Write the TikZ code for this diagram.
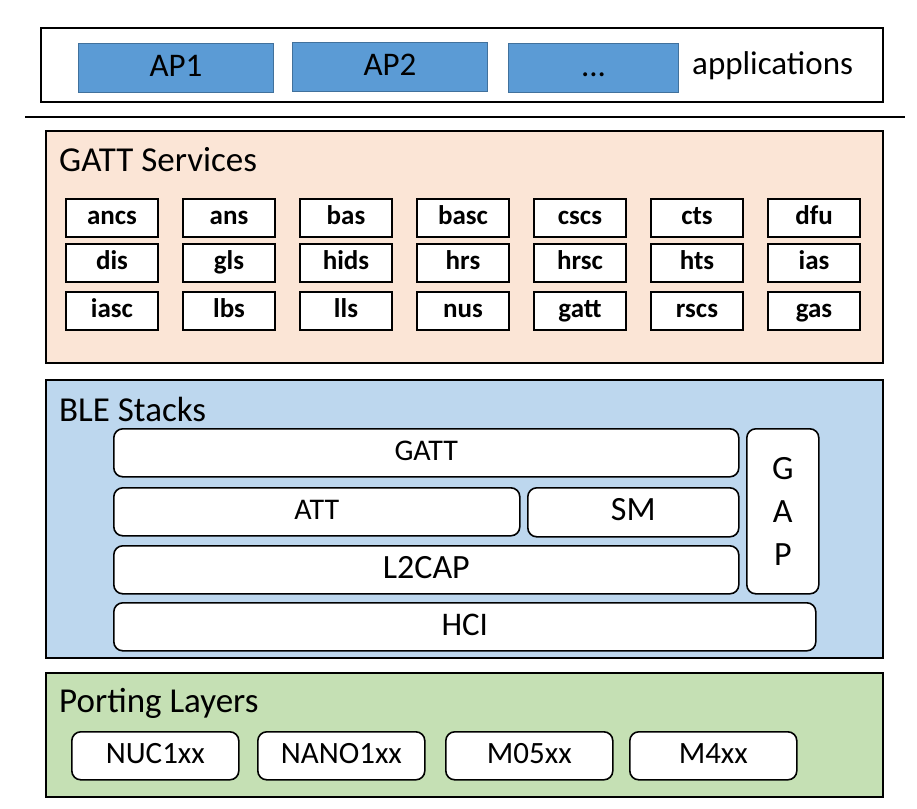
\documentclass[tikz,border=0pt]{standalone}
\usepackage{fontspec}
\setmainfont{Carlito}
\usepackage{tikz}
\definecolor{appblue}{HTML}{5B9BD5}
\definecolor{appedge}{HTML}{41719C}
\definecolor{svcbg}{HTML}{FBE5D6}
\definecolor{stackbg}{HTML}{BDD7EE}
\definecolor{portbg}{HTML}{C5E0B4}
\newcommand{\fs}[1]{\fontsize{#1}{#1}\selectfont}
\tikzset{
  layer/.style = {draw, line width=1.8pt, anchor=north west, inner sep=0pt},
  title/.style = {anchor=west, inner sep=0pt, font=\fs{35}},
  fsz/.style = {font=\fs{#1}, text height=0.7*#1pt, text depth=0.2*#1pt},
  app/.style = {draw=appedge, fill=appblue, line width=1pt, anchor=north west,
    minimum width=195pt, minimum height=49pt, inner sep=0pt, fsz=33},
  svc/.style = {draw, fill=white, line width=2pt, minimum width=92pt,
    minimum height=38pt, inner sep=0pt, fsz=27, font=\fs{27}\bfseries},
  stk/.style = {draw, fill=white, line width=1.6pt, rounded corners=9pt,
    anchor=north west, inner sep=0pt},
  port/.style = {stk, minimum width=167pt, minimum height=48pt, fsz=31}
}
\begin{document}
\begin{tikzpicture}[x=1pt, y=-1pt]
\useasboundingbox (0,0) rectangle (917,808);
% applications
\node[layer, minimum width=842pt, minimum height=74pt] (apps) at (40,27) {};
\node[app] (ap1) at (78,43) {AP1};
\node[app] (ap2) at (292,42) {AP2};
\node[app, minimum width=170pt] (apn) at (508,43) {...};
\node[anchor=west, inner sep=0pt, font=\fs{33}] (applbl) at (692,66) {applications};
\draw[line width=2.5pt] (25,117) -- (905,117);
% GATT services
\node[layer, fill=svcbg, minimum width=837pt, minimum height=232pt] (gatts) at (45,130) {};
\node[title] (gattslbl) at (59,160) {GATT Services};
\node[svc] (ancs) at (112,218) {ancs};
\node[svc] (ans)  at (229,218) {ans};
\node[svc] (bas)  at (346,218) {bas};
\node[svc] (basc) at (463,218) {basc};
\node[svc] (cscs) at (580,218) {cscs};
\node[svc] (cts)  at (697,218) {cts};
\node[svc] (dfu)  at (814,218) {dfu};
\node[svc] (dis)  at (112,263) {dis};
\node[svc] (gls)  at (229,263) {gls};
\node[svc] (hids) at (346,263) {hids};
\node[svc] (hrs)  at (463,263) {hrs};
\node[svc] (hrsc) at (580,263) {hrsc};
\node[svc] (hts)  at (697,263) {hts};
\node[svc] (ias)  at (814,263) {ias};
\node[svc] (iasc) at (112,311) {iasc};
\node[svc] (lbs)  at (229,311) {lbs};
\node[svc] (lls)  at (346,311) {lls};
\node[svc] (nus)  at (463,311) {nus};
\node[svc] (gatt) at (580,311) {gatt};
\node[svc] (rscs) at (697,311) {rscs};
\node[svc] (gas)  at (814,311) {gas};
% BLE stacks
\node[layer, fill=stackbg, minimum width=837pt, minimum height=278pt] (ble) at (45,379) {};
\node[title] (blelbl) at (59,409) {BLE Stacks};
\node[stk, minimum width=625pt, minimum height=48pt, fsz=30] (gattl) at (113,428) {GATT};
\node[stk, minimum width=406pt, minimum height=48pt, fsz=30] (att) at (113,487) {ATT};
\node[stk, minimum width=211pt, minimum height=49pt, fsz=34] (sm) at (527,487) {SM};
\node[stk, minimum width=625pt, minimum height=48pt, fsz=34] (l2cap) at (113,545) {L2CAP};
\node[stk, minimum width=72pt, minimum height=165pt, font=\fs{34}, align=center] (gap) at (746,428) {G\\[9pt]A\\[9pt]P};
\node[stk, minimum width=702pt, minimum height=48pt, fsz=33] (hci) at (113,602) {HCI};
% porting layers
\node[layer, fill=portbg, minimum width=837pt, minimum height=124pt] (porting) at (45,672) {};
\node[title] (portlbl) at (59,703) {Porting Layers};
\node[port] (nuc) at (71,731) {NUC1xx};
\node[port] (nano) at (257,731) {NANO1xx};
\node[port] (m05) at (445,731) {M05xx};
\node[port] (m4) at (629,731) {M4xx};
\end{tikzpicture}
\end{document}
